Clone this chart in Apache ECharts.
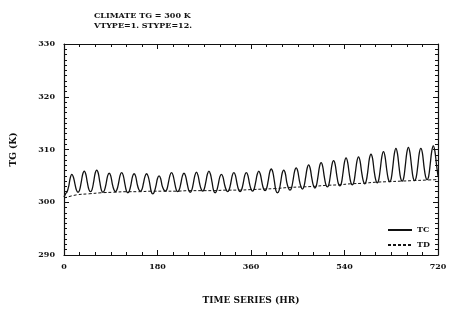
<!DOCTYPE html>
<html>
<head>
<meta charset="utf-8">
<script src="https://cdn.jsdelivr.net/npm/echarts@6/dist/echarts.min.js"></script>
<style>
  html, body { margin: 0; padding: 0; background: #fff; }
  #chart { width: 457px; height: 320px; }
</style>
</head>
<body>
<div id="chart"></div>
<script>
  /******************/
  //region    //data

  let xTicks = [0, 180, 360, 540, 720];
  let yTicks = [290, 300, 310, 320, 330];

  // TC, sampled every 3 hours (0..720)
  let tcStep = 3;
  let tcValues = [
    301.0, 301.6, 302.0, 303.0, 304.6, 305.3, 304.8, 303.5,
    302.3, 301.9, 302.3, 303.7, 305.3, 305.9, 305.3, 303.7,
    302.4, 302.0, 302.4, 303.8, 305.5, 306.1, 305.5, 303.8,
    302.3, 301.9, 302.3, 303.5, 305.0, 305.5, 305.0, 303.5,
    302.4, 302.0, 302.4, 303.6, 305.1, 305.6, 305.1, 303.6,
    302.2, 301.8, 302.2, 303.4, 304.9, 305.4, 304.9, 303.4,
    302.4, 302.1, 302.4, 303.6, 304.9, 305.4, 304.9, 303.6,
    302.0, 301.6, 302.0, 303.1, 304.5, 305.0, 304.5, 303.1,
    302.4, 302.1, 302.4, 303.7, 305.1, 305.6, 305.1, 303.7,
    302.4, 302.0, 302.4, 303.6, 305.0, 305.5, 305.0, 303.6,
    302.3, 301.9, 302.3, 303.6, 305.1, 305.7, 305.1, 303.6,
    302.5, 302.1, 302.5, 303.8, 305.3, 305.9, 305.3, 303.8,
    302.2, 301.8, 302.2, 303.4, 304.8, 305.3, 304.8, 303.4,
    302.4, 302.0, 302.4, 303.6, 305.1, 305.6, 305.1, 303.6,
    302.4, 302.0, 302.4, 303.6, 305.1, 305.6, 305.1, 303.6,
    302.5, 302.1, 302.5, 303.8, 305.3, 305.9, 305.3, 303.8,
    302.6, 302.2, 302.6, 304.0, 305.7, 306.3, 305.7, 304.0,
    302.2, 301.8, 302.2, 303.7, 305.5, 306.1, 305.5, 303.7,
    302.7, 302.3, 302.7, 304.2, 305.9, 306.5, 305.9, 304.2,
    303.0, 302.5, 303.0, 304.6, 306.4, 307.1, 306.4, 304.6,
    303.2, 302.7, 303.2, 304.9, 306.8, 307.5, 306.8, 304.9,
    303.4, 302.9, 303.4, 305.2, 307.2, 307.9, 307.2, 305.2,
    303.6, 303.1, 303.6, 305.5, 307.6, 308.4, 307.6, 305.5,
    303.8, 303.3, 303.8, 305.7, 307.8, 308.6, 307.8, 305.7,
    304.1, 303.5, 304.1, 306.0, 308.3, 309.1, 308.3, 306.0,
    304.3, 303.7, 304.3, 306.4, 308.7, 309.6, 308.7, 306.4,
    304.5, 303.9, 304.5, 306.7, 309.2, 310.2, 309.2, 306.7,
    304.6, 304.0, 304.6, 306.9, 309.4, 310.4, 309.4, 306.9,
    304.7, 304.1, 304.7, 306.8, 309.3, 310.2, 309.3, 306.8,
    304.9, 304.3, 304.9, 307.2, 309.7, 310.7, 309.7, 307.2,
    305.0
  ];

  // TD, sampled every 24 hours (0..720)
  let tdStep = 24;
  let tdValues = [
    300.8, 301.4, 301.6, 301.8, 301.9, 302.0, 302.0, 302.1,
    302.1, 302.1, 302.2, 302.2, 302.2, 302.3, 302.3, 302.4,
    302.5, 302.6, 302.8, 302.9, 303.0, 303.2, 303.3, 303.5,
    303.6, 303.8, 303.9, 304.0, 304.1, 304.2, 304.3
  ];

  //endregion

  /******************/
  //region    //chart

  let font = 'DejaVu Serif';
  let ink = '#111';

  function pairs(values, step) {
    return values.map((v, i) => [i * step, v]);
  }

  function xAxis(pos, showLabel) {
    return {
      type: 'value', position: pos, min: 0, max: 720, interval: 180,
      axisLine: {show: true, onZero: false, lineStyle: {color: ink, width: 1.2}},
      axisTick: {show: true, inside: true, length: 5, lineStyle: {color: ink}},
      minorTick: {show: true, splitNumber: 6, length: 3, lineStyle: {color: ink}},
      splitLine: {show: false},
      axisLabel: {
        show: showLabel, color: ink, fontFamily: font, fontWeight: 'bold', fontSize: 8, margin: 8,
        formatter: v => xTicks.indexOf(v) >= 0 ? String(v) : ''
      },
      name: showLabel ? 'TIME SERIES (HR)' : '',
      nameLocation: 'middle', nameGap: 41,
      nameTextStyle: {color: ink, fontFamily: font, fontWeight: 'bold', fontSize: 9}
    };
  }

  function yAxis(pos, showLabel) {
    return {
      type: 'value', position: pos, min: 290, max: 330, interval: 10,
      axisLine: {show: true, onZero: false, lineStyle: {color: ink, width: 1.2}},
      axisTick: {show: true, inside: true, length: 5, lineStyle: {color: ink}},
      minorTick: {show: true, splitNumber: 10, length: 3, lineStyle: {color: ink}},
      splitLine: {show: false},
      axisLabel: {
        show: showLabel, color: ink, fontFamily: font, fontWeight: 'bold', fontSize: 8, margin: 9,
        formatter: v => yTicks.indexOf(v) >= 0 ? String(v) : ''
      },
      name: showLabel ? 'TG (K)' : '',
      nameLocation: 'middle', nameGap: 46,
      nameTextStyle: {color: ink, fontFamily: font, fontWeight: 'bold', fontSize: 9}
    };
  }

  let chart = echarts.init(document.getElementById('chart'), null, {renderer: 'canvas'});

  let option = {
    animation: false,
    backgroundColor: '#fff',
    title: {
      text: 'CLIMATE TG = 300 K\nVTYPE=1. STYPE=12.',
      left: 89, top: 6,
      textStyle: {color: ink, fontFamily: font, fontWeight: 'bold', fontSize: 8, lineHeight: 10}
    },
    legend: {
      orient: 'vertical', left: 382, top: 221, itemGap: 7,
      itemWidth: 24, itemHeight: 9,
      itemStyle: {opacity: 0},
      textStyle: {color: ink, fontFamily: font, fontWeight: 'bold', fontSize: 8},
      data: ['TC', 'TD']
    },
    grid: {left: 64, right: 19, top: 44, bottom: 65},
    xAxis: [xAxis('bottom', true), xAxis('top', false)],
    yAxis: [yAxis('left', true), yAxis('right', false)],
    series: [
      {
        name: 'TC', type: 'line', symbol: 'none', smooth: 0.35,
        lineStyle: {color: ink, width: 1.3},
        itemStyle: {color: ink},
        data: pairs(tcValues, tcStep)
      },
      {
        name: 'TD', type: 'line', symbol: 'none', smooth: 0.4,
        lineStyle: {color: ink, width: 1, type: [3, 2]},
        itemStyle: {color: ink},
        data: pairs(tdValues, tdStep)
      }
    ]
  };

  chart.setOption(option);

  //endregion
</script>
</body>
</html>
